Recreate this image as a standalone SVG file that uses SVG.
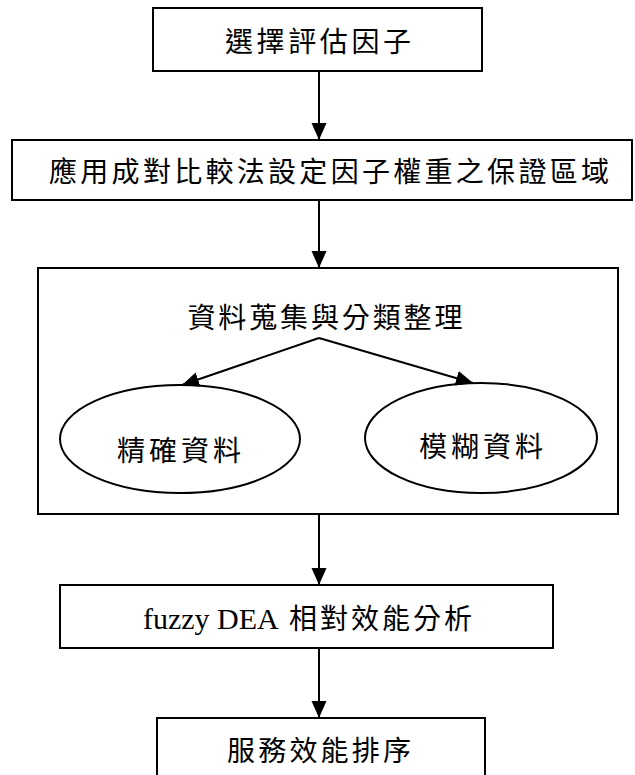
<svg xmlns="http://www.w3.org/2000/svg" width="635" height="775" viewBox="0 0 635 775">
<style>
.box{fill:#fff;stroke:#000;stroke-width:2}
.ell{fill:#fff;stroke:#000;stroke-width:2}
.cjk{font-family:"Noto Sans CJK TC","Noto Sans CJK SC",sans-serif;font-size:28px;fill:#000;text-anchor:middle}
.lat{font-family:"Liberation Serif","Times New Roman",serif;font-size:30px;fill:#000}
.con{stroke:#000;stroke-width:2;fill:none;marker-end:url(#ah)}
</style>
<defs>
<marker id="ah" viewBox="0 0 17 16" markerWidth="17" markerHeight="16" refX="17" refY="8" orient="auto" markerUnits="userSpaceOnUse">
<path d="M0,0.5 L17,8 L0,15.5 z" fill="#000"/>
</marker>
</defs>
<rect width="635" height="775" fill="#fff"/>
<g id="node-select">
<rect class="box" x="153" y="8" width="329" height="63"/>
<text class="cjk" x="318" y="52" textLength="186" lengthAdjust="spacing">選擇評估因子</text>
</g>
<g id="node-weights">
<rect class="box" x="12" y="140" width="620" height="60"/>
<text class="cjk" x="329" y="182" textLength="560" lengthAdjust="spacing">應用成對比較法設定因子權重之保證區域</text>
</g>
<g id="node-collect">
<rect class="box" x="38" y="268" width="580" height="246"/>
<text class="cjk" x="325" y="328" textLength="275" lengthAdjust="spacing">資料蒐集與分類整理</text>
</g>
<g id="node-crisp">
<ellipse class="ell" cx="180" cy="439" rx="120" ry="54"/>
<text class="cjk" x="179" y="461" textLength="124" lengthAdjust="spacing">精確資料</text>
</g>
<g id="node-fuzzy">
<ellipse class="ell" cx="481" cy="438" rx="116" ry="55"/>
<text class="cjk" x="481" y="457" textLength="124" lengthAdjust="spacing">模糊資料</text>
</g>
<g id="node-dea">
<rect class="box" x="60" y="585" width="493" height="63"/>
<text y="629"><tspan class="lat" x="143">fuzzy DEA</tspan><tspan class="cjk" x="289" style="text-anchor:start;letter-spacing:3px">相對效能分析</tspan></text>
</g>
<g id="node-rank">
<rect class="box" x="157" y="718" width="328" height="80"/>
<text class="cjk" x="319" y="761" textLength="184" lengthAdjust="spacing">服務效能排序</text>
</g>
<g id="connectors">
<line class="con" x1="319" y1="71" x2="319" y2="140"/>
<line class="con" x1="319" y1="200" x2="319" y2="268"/>
<line class="con" x1="319" y1="338" x2="182" y2="385"/>
<line class="con" x1="319" y1="338" x2="473" y2="383"/>
<line class="con" x1="319" y1="514" x2="319" y2="585"/>
<line class="con" x1="319" y1="648" x2="319" y2="718"/>
</g>
</svg>
